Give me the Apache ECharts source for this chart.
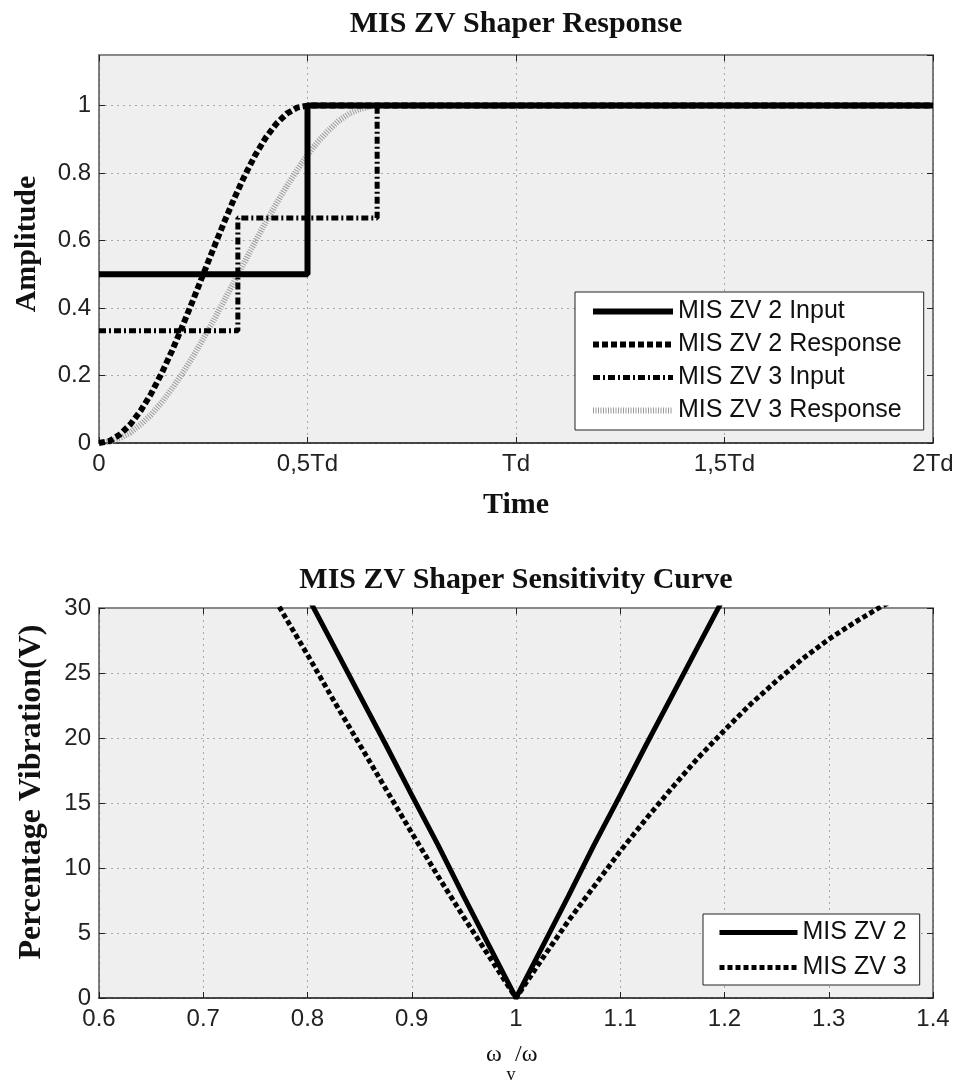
<!DOCTYPE html>
<html><head><meta charset="utf-8">
<script src="https://cdn.jsdelivr.net/npm/echarts@6/dist/echarts.min.js"></script>
<style>html,body{margin:0;padding:0;background:#fff}#c{width:961px;height:1083px}</style>
</head><body><div id="c"></div>
<script>
// ---- Top chart data (time in units of Td) ----
const timeTickLabels = ['0', '0,5Td', 'Td', '1,5Td', '2Td'];
const zv2InputT = [0, 0.5, 0.5, 2];
const zv2InputA = [0.5, 0.5, 1, 1];
const zv2RespT = [0, 0.025, 0.05, 0.075, 0.1, 0.125, 0.15, 0.175, 0.2, 0.225, 0.25, 0.275, 0.3, 0.325, 0.35, 0.375, 0.4, 0.425, 0.45, 0.475, 0.5, 2];
const zv2RespA = [0, 0.006, 0.025, 0.055, 0.096, 0.146, 0.206, 0.273, 0.346, 0.422, 0.5, 0.578, 0.654, 0.727, 0.794, 0.854, 0.905, 0.946, 0.976, 0.994, 1, 1];
const zv3InputT = [0, 0.333, 0.333, 0.667, 0.667, 2];
const zv3InputA = [0.333, 0.333, 0.667, 0.667, 1, 1];
const zv3RespT = [0, 0.025, 0.05, 0.075, 0.1, 0.125, 0.15, 0.175, 0.2, 0.225, 0.25, 0.275, 0.3, 0.325, 0.35, 0.375, 0.4, 0.425, 0.45, 0.475, 0.5, 0.525, 0.55, 0.575, 0.6, 0.625, 0.65, 0.667, 2];
const zv3RespA = [0, 0.004, 0.014, 0.031, 0.055, 0.084, 0.12, 0.161, 0.206, 0.256, 0.309, 0.364, 0.422, 0.48, 0.539, 0.598, 0.655, 0.709, 0.761, 0.809, 0.854, 0.893, 0.926, 0.955, 0.976, 0.99, 0.998, 1, 1];

// ---- Bottom chart data ----
const zv2Ratio = [0.775, 0.8, 0.825, 0.85, 0.875, 0.9, 0.925, 0.95, 0.975, 1, 1.025, 1.05, 1.075, 1.1, 1.125, 1.15, 1.175, 1.2, 1.225];
const zv2Vib = [34.5, 30.9, 27.1, 23.3, 19.5, 15.6, 11.8, 7.8, 3.9, 0, 3.9, 7.8, 11.8, 15.6, 19.5, 23.3, 27.1, 30.9, 34.5];
const zv3Ratio = [0.75, 0.775, 0.8, 0.825, 0.85, 0.875, 0.9, 0.925, 0.95, 0.975, 1, 1.025, 1.05, 1.075, 1.1, 1.125, 1.15, 1.175, 1.2, 1.225, 1.25, 1.275, 1.3, 1.325, 1.35, 1.375];
const zv3Vib = [33.3, 29.8, 26.4, 22.9, 19.5, 16.1, 12.7, 9.4, 6.2, 3.1, 0, 3.0, 5.9, 8.6, 11.3, 13.8, 16.2, 18.5, 20.6, 22.6, 24.4, 26.1, 27.6, 28.9, 30.1, 31.1];

const names1 = ['MIS ZV 2 Input', 'MIS ZV 2 Response', 'MIS ZV 3 Input', 'MIS ZV 3 Response'];
const names2 = ['MIS ZV 2', 'MIS ZV 3'];

const zip = (a, b) => a.map((v, i) => [v, b[i]]);

const SANS = 'Liberation Sans';
const SERIF = 'Liberation Serif';
const labelStyle = { fontFamily: SANS, fontSize: 24, color: '#222' };
const gridLine = { show: true, lineStyle: { color: '#a8a8a8', type: [2, 4], width: 1 } };
const tick = { show: true, inside: true, length: 6, lineStyle: { color: '#222', width: 1 } };

function mainX(gi, min, max, interval, fmt) {
  return { type: 'value', gridIndex: gi, min, max, interval, position: 'bottom',
    axisLine: { show: true, onZero: false, lineStyle: { color: '#111', width: 1.5 } },
    axisTick: tick, splitLine: gridLine,
    axisLabel: Object.assign({ margin: 9, formatter: fmt }, labelStyle) };
}
function mainY(gi, min, max, interval) {
  return { type: 'value', gridIndex: gi, min, max, interval, position: 'left',
    axisLine: { show: true, onZero: false, lineStyle: { color: '#555', width: 1.5 } },
    axisTick: tick, splitLine: gridLine,
    axisLabel: Object.assign({ margin: 8, showMaxLabel: interval === 0.2 ? false : true }, labelStyle) };
}
function mirrorX(gi, min, max, interval) {
  return { type: 'value', gridIndex: gi, min, max, interval, position: 'top',
    axisLine: { show: true, onZero: false, lineStyle: { color: '#888', width: 2 } },
    axisTick: tick, splitLine: { show: false }, axisLabel: { show: false } };
}
function mirrorY(gi, min, max, interval) {
  return { type: 'value', gridIndex: gi, min, max, interval, position: 'right',
    axisLine: { show: true, onZero: false, lineStyle: { color: '#555', width: 1.5 } },
    axisTick: tick, splitLine: { show: false }, axisLabel: { show: false } };
}

const chart = echarts.init(document.getElementById('c'), null, { renderer: 'canvas' });
const txt = (text, x, y, size, opts) => Object.assign({
  type: 'text', x, y, style: { text, font: (opts && opts.bold === false ? '' : 'bold ') + size + 'px "' + SERIF + '"', fill: '#111', align: (opts && opts.align) || 'center', verticalAlign: 'middle' }
}, opts && opts.rot ? { rotation: Math.PI / 2 } : {});

const lineSeries = (name, xi, data, style, z) => ({
  name, type: 'line', xAxisIndex: xi, yAxisIndex: xi, data, symbol: 'none', z: z || 2,
  itemStyle: { color: style.color },
  lineStyle: style, animation: false, clip: true
});

const legendCommon = {
  orient: 'vertical', itemHeight: 14, backgroundColor: '#fff', borderColor: '#222', borderWidth: 1,
  textStyle: { fontFamily: SANS, fontSize: 25, color: '#111' },
  itemStyle: { color: 'rgba(0,0,0,0)', borderWidth: 0 },
  lineStyle: { width: 'inherit', type: 'inherit' }, selectedMode: false
};

chart.setOption({
  animation: false,
  backgroundColor: '#fff',
  grid: [
    { left: 99, right: 28, top: 55, height: 388, show: true, backgroundColor: '#efefef', borderWidth: 0 },
    { left: 99, right: 28, top: 608, height: 390, show: true, backgroundColor: '#efefef', borderWidth: 0 }
  ],
  xAxis: [
    mainX(0, 0, 2, 0.5, v => timeTickLabels[Math.round(v / 0.5)]),
    mainX(1, 0.6, 1.4, 0.1, v => String(+v.toFixed(2))),
    mirrorX(0, 0, 2, 0.5),
    mirrorX(1, 0.6, 1.4, 0.1)
  ],
  yAxis: [
    mainY(0, 0, 1.15, 0.2),
    mainY(1, 0, 30, 5),
    mirrorY(0, 0, 1.15, 0.2),
    mirrorY(1, 0, 30, 5)
  ],
  legend: [
    Object.assign({ data: names1, left: 575, top: 292, padding: [7, 22, 7, 15], itemGap: 8, itemWidth: 80 }, legendCommon),
    Object.assign({ data: names2, left: 703, top: 914, padding: [6, 13, 5, 14], itemGap: 10, itemWidth: 78 }, legendCommon)
  ],
  series: [
    lineSeries(names1[0], 0, zip(zv2InputT, zv2InputA), { color: '#000', width: 6, type: 'solid' }, 6),
    lineSeries(names1[1], 0, zip(zv2RespT, zv2RespA), { color: '#000', width: 6, type: [6, 3], cap: 'butt' }, 4),
    lineSeries(names1[2], 0, zip(zv3InputT, zv3InputA), { color: '#000', width: 5, type: [7, 3, 2, 3], cap: 'butt' }, 5),
    lineSeries(names1[3], 0, zip(zv3RespT, zv3RespA), { color: '#9a9a9a', width: 6, type: [1, 1.5], cap: 'butt' }, 3),
    lineSeries(names2[0], 1, zip(zv2Ratio, zv2Vib), { color: '#000', width: 5, type: 'solid' }, 4),
    lineSeries(names2[1], 1, zip(zv3Ratio, zv3Vib), { color: '#000', width: 5, type: [5, 3], cap: 'butt' }, 3)
  ],
  graphic: [
    txt('MIS ZV Shaper Response', 516, 24, 30),
    txt('Time', 516, 505, 30),
    txt('Amplitude', 27, 244, 30, { rot: true }),
    txt('MIS ZV Shaper Sensitivity Curve', 516, 580, 30),
    txt('Percentage Vibration(V)', 32, 792, 32, { rot: true }),
    txt('ω', 494, 1055, 24, { bold: false }),
    txt('v', 511, 1075, 18, { bold: false }),
    txt('/ω', 515, 1055, 24, { bold: false, align: 'left' })
  ]
});
</script>
</body></html>
